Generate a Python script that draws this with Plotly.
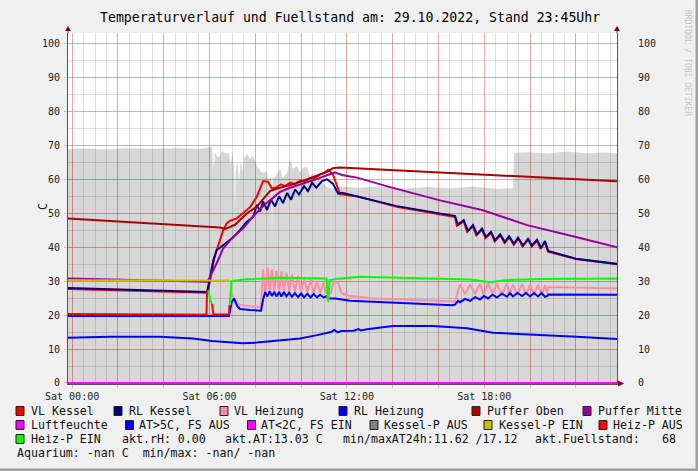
import pandas as pd
import plotly.graph_objects as go

BASE = pd.Timestamp("2022-10-29 00:00")

# ---------------- data (hour of day, value) ----------------
FUELLSTAND = [(-0.25,68.8),(0.5,69.1),(1.5,68.8),(2.5,69.2),(3.5,68.9),(4.5,69.2),(5.5,68.9),(6.10,69.5),(6.18,63.5),
    (6.25,68.0),(6.35,66.5),(6.46,66.8),(6.55,68.5),(6.70,67.5),(6.85,67.8),(6.92,64.5),(7.02,68.3),(7.08,62.0),(7.11,51.0),
    (7.14,62.0),(7.22,65.5),(7.29,58.8),(7.36,65.5),(7.45,62.5),(7.52,66.5),(7.64,67.5),(7.77,66.0),(7.90,67.0),(8.07,64.1),
    (8.21,62.6),(8.34,61.8),(8.50,62.5),(8.56,60.2),(8.70,60.5),(8.73,41.2),(8.76,60.5),(8.86,60.7),(9.08,63.1),(9.20,60.5),
    (9.38,61.7),(9.52,66.0),(9.65,63.0),(9.80,64.0),(9.95,62.1),(10.10,63.5),(10.26,63.6),(10.40,61.0),(10.52,61.7),(10.70,61.0),
    (10.83,59.7),(11.13,57.7),(11.39,57.3),(11.70,57.8),(12.5,57.5),(13.5,57.9),(14.5,57.3),(15.5,57.7),(16.5,57.4),(17.5,57.8),
    (18.5,57.2),(19.25,57.4),(19.30,67.8),(20.0,68.0),(20.8,67.6),(21.6,68.2),(22.4,67.7),(23.2,67.9),(23.9,67.6)]

VL_KESSEL = [(-0.25,27.7),(5.89,26.6),(5.95,27.5),(6.10,33.0),(6.20,36.5),(6.33,39.5),(6.46,42.0),(6.60,45.0),(6.75,47.0),
    (6.90,47.8),(7.19,48.5),(7.46,50.0),(7.77,51.8),(8.06,54.8),(8.21,57.5),(8.34,59.5),(8.55,59.3),(8.73,57.3),(8.94,57.7),
    (9.12,58.5),(9.30,58.0),(9.52,59.0),(9.73,58.6),(9.95,59.6),(10.17,59.3),(10.39,60.3),(10.60,60.3),(10.83,61.5),(11.00,61.8),
    (11.18,62.8),(11.39,61.5),(11.55,58.5),(11.70,55.6),(11.83,55.5),(12.5,54.9),(14.18,51.9),(16.63,49.1),(16.72,48.9),
    (16.80,46.3),(17.10,47.6),(17.25,44.5),(17.50,46.2),(17.65,43.5),(17.90,45.2),(18.05,42.7),(18.30,44.2),(18.45,41.7),
    (18.70,43.5),(18.88,41.2),(19.10,42.9),(19.28,40.7),(19.50,42.5),(19.67,40.2),(19.92,42.2),(20.07,40.2),(20.30,41.9),
    (20.45,39.5),(20.65,41.5),(20.78,38.7),(22.0,36.5),(23.9,34.9)]

RL_KESSEL = [(-0.25,28.0),(5.89,26.8),(6.02,30.9),(6.17,36.2),(6.31,39.1),(6.60,40.6),(6.82,41.6),(7.04,42.9),(7.19,44.0),
    (7.33,45.0),(7.62,47.4),(7.91,48.9),(8.07,52.5),(8.21,50.5),(8.34,53.5),(8.51,51.0),(8.69,54.0),(8.86,52.0),(9.04,55.0),
    (9.21,53.0),(9.39,56.0),(9.56,54.0),(9.74,57.0),(9.91,55.5),(10.13,58.0),(10.30,56.5),(10.48,59.0),(10.66,57.5),(10.91,59.5),
    (11.13,60.0),(11.39,58.7),(11.62,55.8),(11.79,56.0),(12.57,54.8),(14.18,52.1),(16.63,49.3),(16.72,49.2),(16.85,46.6),
    (17.10,48.0),(17.29,44.8),(17.51,46.5),(17.68,43.8),(17.90,45.5),(18.07,43.0),(18.29,44.5),(18.47,42.0),(18.69,43.8),
    (18.90,41.5),(19.08,43.2),(19.30,41.0),(19.47,42.8),(19.69,40.5),(19.91,42.5),(20.08,40.5),(20.30,42.2),(20.48,39.8),
    (20.65,41.8),(20.79,38.9),(22.0,36.6),(23.9,35.0)]

VL_HEIZUNG = [(-0.25,20.2),(6.85,20.2),(6.93,27.0),(7.10,24.5),(7.33,23.0),(7.77,22.6),(8.25,22.4),(8.336,33.5),(8.43,26.5),
    (8.533,34.0),(8.63,26.8),(8.729,33.5),(8.83,26.8),(8.926,33.0),(9.04,27.0),(9.144,32.8),(9.25,27.0),(9.362,32.5),(9.48,27.0),
    (9.602,32.0),(9.73,27.0),(9.865,31.5),(10.0,26.8),(10.127,31.0),(10.27,26.8),(10.41,30.5),(10.55,26.6),(10.694,30.0),
    (10.83,26.5),(10.978,29.5),(11.09,26.5),(11.18,26.0),(11.30,26.5),(11.42,29.8),(11.62,29.5),(11.77,26.4),(12.14,25.6),
    (12.57,25.4),(13.14,24.9),(16.63,23.9),(16.72,24.0),(16.85,27.0),(16.94,29.0),(17.16,26.2),(17.38,29.0),(17.60,26.2),
    (17.81,29.2),(17.98,26.2),(18.16,29.3),(18.36,26.2),(18.55,29.3),(18.77,26.0),(18.99,29.3),(19.12,26.0),(19.25,29.0),
    (19.45,26.0),(19.65,29.2),(19.82,26.0),(20.0,29.0),(20.17,26.0),(20.35,29.0),(20.50,26.0),(20.65,28.8),(20.74,26.5),
    (20.80,28.3),(23.9,27.8)]

RL_HEIZUNG = [(-0.25,19.7),(6.85,19.7),(6.97,23.8),(7.07,24.9),(7.20,22.8),(7.33,21.8),(7.77,21.5),(8.25,21.3),(8.34,24.5),
    (8.43,26.8),(8.53,25.5),(8.63,27.0),(8.73,25.6),(8.83,26.8),(8.93,25.5),(9.04,26.8),(9.14,25.5),(9.25,26.8),(9.36,25.5),
    (9.48,26.6),(9.60,25.4),(9.73,26.5),(9.87,25.3),(10.0,26.4),(10.13,25.2),(10.27,26.3),(10.41,25.2),(10.55,26.2),(10.69,25.2),
    (10.83,26.0),(10.98,25.2),(11.13,25.6),(11.17,24.9),(11.50,24.9),(11.78,24.6),(12.14,24.2),(16.63,22.9),(16.72,23.1),
    (16.85,24.2),(16.94,23.8),(17.16,24.8),(17.38,24.2),(17.60,25.3),(17.81,24.6),(17.98,25.6),(18.16,24.9),(18.36,26.0),
    (18.55,25.2),(18.77,26.3),(18.99,25.4),(19.12,26.5),(19.25,25.5),(19.45,26.5),(19.65,25.6),(19.82,26.5),(20.0,25.5),
    (20.17,26.5),(20.35,25.5),(20.50,26.5),(20.65,25.4),(20.74,25.6),(20.80,26.1),(23.9,26.0)]

PUFFER_OBEN = [(-0.25,48.5),(6.46,45.8),(6.70,45.4),(7.11,46.6),(7.33,48.0),(7.64,50.0),(8.06,51.9),(8.51,55.3),(8.64,56.5),
    (8.95,57.3),(9.52,58.2),(9.65,58.5),(10.39,60.3),(11.13,62.2),(11.39,63.3),(11.70,63.5),(23.9,59.4)]

PUFFER_MITTE = [(-0.25,30.8),(5.91,29.8),(6.31,35.2),(6.60,39.7),(7.03,43.0),(7.46,45.5),(7.95,49.4),(8.40,52.5),(8.64,53.8),
    (9.08,56.3),(9.52,57.5),(10.0,58.5),(10.52,59.7),(11.13,61.2),(11.48,62.0),(11.83,61.2),(12.45,60.5),(13.88,57.7),
    (16.07,53.8),(17.94,50.9),(19.87,46.5),(21.87,43.2),(23.9,39.8)]

LUFTFEUCHTE = [(-0.25,0.0),(23.9,0.0)]

AUSSENTEMP = [(-0.25,13.3),(1.65,13.6),(3.84,13.6),(5.28,13.1),(6.10,12.4),(7.45,11.7),(8.07,11.9),(9.95,13.1),(10.7,14.1),
    (11.3,15.0),(11.45,15.6),(11.6,14.9),(11.75,15.3),(12.3,15.4),(12.5,15.9),(12.6,15.5),(12.88,15.8),(14.0,16.8),(15.76,16.8),
    (17.25,16.1),(18.38,14.8),(20.13,14.3),(22.05,13.6),(23.9,12.9)]

KESSEL_P_EIN = [(-0.25,30.3),(6.87,30.2),(None,None),(11.15,25.8),(11.18,23.8),(11.21,25.8)]

HEIZ_P_AUS = [(-0.25,20.3),(5.87,20.1),(5.89,26.9),(None,None),(6.11,23.3),(6.17,20.2),(6.85,20.2),(6.87,22.9)]

HEIZ_P_EIN = [(5.91,26.9),(5.95,27.0),(6.09,23.3),(None,None),(6.89,22.9),(6.96,30.0),(7.5,30.5),(9.08,31.0),(11.11,30.8),
    (11.18,24.0),(11.25,30.3),(11.70,30.8),(12.57,31.3),(16.07,30.8),(17.38,30.5),(18.25,29.7),(18.90,30.3),(20.5,30.6),(23.9,30.8)]

TICK_HOURS = [0, 2, 4, 6, 8, 10, 12, 14, 16, 18, 20, 22]
TICK_TEXT = ["Sat 00:00", "", "", "Sat 06:00", "", "", "Sat 12:00", "", "", "Sat 18:00", "", ""]
Y_TICKS = [0, 10, 20, 30, 40, 50, 60, 70, 80, 90, 100]

LEGEND_LABELS = ["VL Kessel", "RL Kessel", "VL Heizung", "RL Heizung", "Puffer Oben", "Puffer Mitte",
                 "Luftfeuchte", "AT>5C, FS AUS", "AT<2C, FS EIN", "Kessel-P AUS", "Kessel-P EIN", "Heiz-P AUS",
                 "Heiz-P EIN"]
STAT_TEXTS = ["akt.rH: 0.00", "akt.AT:13.03 C", "min/maxAT24h:11.62 /17.12", "akt.Fuellstand:", "68",
              "Aquarium: -nan C\u00a0\u00a0min/max: -nan/ -nan"]
TITLE = "Temperaturverlauf und Fuellstand am: 29.10.2022, Stand 23:45Uhr"

# ---------------- styles ----------------
C = {
    "VL Kessel": "#FF0000", "RL Kessel": "#000080", "VL Heizung": "#FF8CA6", "RL Heizung": "#0000FF",
    "Puffer Oben": "#AA0000", "Puffer Mitte": "#990099", "Luftfeuchte": "#FF00FF", "AT>5C, FS AUS": "#0000FF",
    "AT<2C, FS EIN": "#FF00FF", "Kessel-P AUS": "#808080", "Kessel-P EIN": "#CCC000", "Heiz-P AUS": "#FF0000",
    "Heiz-P EIN": "#00FF00",
}
FONT = "DejaVu Sans Mono"
W, H = 698, 471
L, R, T, B = 68, 617, 33, 384


def px(x):
    return (x - L) / (R - L)


def py(y):
    return (B - y) / (B - T)


def tx(h):
    return None if h is None else BASE + pd.Timedelta(hours=h)


def split(pairs):
    return [tx(p[0]) for p in pairs], [p[1] for p in pairs]


fig = go.Figure()

fx, fy = split(FUELLSTAND)
fig.add_trace(go.Scatter(x=fx, y=fy, mode="lines", fill="tozeroy", line=dict(width=0),
                         fillcolor="rgba(0,0,0,0.155)", hoverinfo="skip", showlegend=False))

series = [
    (VL_KESSEL, "VL Kessel"), (RL_KESSEL, "RL Kessel"), (VL_HEIZUNG, "VL Heizung"), (RL_HEIZUNG, "RL Heizung"),
    (PUFFER_OBEN, "Puffer Oben"), (PUFFER_MITTE, "Puffer Mitte"), (LUFTFEUCHTE, "Luftfeuchte"),
    (AUSSENTEMP, "AT>5C, FS AUS"), (KESSEL_P_EIN, "Kessel-P EIN"), (HEIZ_P_AUS, "Heiz-P AUS"), (HEIZ_P_EIN, "Heiz-P EIN"),
]
for pairs, name in series:
    xs, ys = split(pairs)
    fig.add_trace(go.Scatter(x=xs, y=ys, mode="lines", line=dict(color=C[name], width=2),
                             connectgaps=False, hoverinfo="skip", showlegend=False))

x0 = BASE - pd.Timedelta(hours=0.179)
x1 = BASE + pd.Timedelta(hours=23.795)

MAJ = "rgba(230,90,90,0.42)"
MIN = "rgba(150,150,150,0.30)"

fig.update_layout(
    width=W, height=H,
    margin=dict(l=L, r=W - R, t=T, b=H - B, pad=0),
    paper_bgcolor="#F0F0F0", plot_bgcolor="#FFFFFF",
    font=dict(family=FONT, size=10, color="#222222"),
    showlegend=False,
    xaxis=dict(type="date", range=[x0, x1], tickmode="array",
               tickvals=[tx(h) for h in TICK_HOURS], ticktext=TICK_TEXT,
               showgrid=True, gridcolor=MAJ, gridwidth=1,
               ticks="outside", ticklen=3, tickcolor=MAJ,
               showline=True, linecolor="#555555", linewidth=1,
               zeroline=False, fixedrange=True,
               minor=dict(dtick=30 * 60 * 1000, tick0=BASE, showgrid=True, gridcolor=MIN, gridwidth=1),
               tickfont=dict(family=FONT, size=10, color="#222222")),
    yaxis=dict(range=[-0.3, 103.1], tickmode="array", tickvals=Y_TICKS,
               showgrid=True, gridcolor=MAJ, gridwidth=1, zeroline=False,
               ticks="outside", ticklen=3, tickcolor=MAJ,
               showline=True, linecolor="#555555", linewidth=1,
               minor=dict(dtick=5, tick0=0, showgrid=True, gridcolor=MIN, gridwidth=1),
               ticklabelstandoff=2,
               tickfont=dict(family=FONT, size=10, color="#222222")),
    yaxis2=dict(range=[-0.3, 103.1], tickmode="array", tickvals=Y_TICKS, overlaying="y", side="right",
                showgrid=False, zeroline=False, ticks="", showline=True, linecolor="#555555", linewidth=1,
                ticklabelstandoff=18, tickfont=dict(family=FONT, size=10, color="#222222")),
)
# dummy trace to activate right axis
fig.add_trace(go.Scatter(x=[x0], y=[None], yaxis="y2", mode="lines", hoverinfo="skip", showlegend=False))

ann = []
shapes = []

# title
ann.append(dict(text=TITLE, x=px(349.5), y=py(17), xref="paper", yref="paper", showarrow=False,
                xanchor="center", yanchor="middle", font=dict(family=FONT, size=13.2, color="#000000")))
# y title
ann.append(dict(text="C", x=px(43), y=py(207), xref="paper", yref="paper", showarrow=False, textangle=-90,
                xanchor="center", yanchor="middle", font=dict(family=FONT, size=11.5, color="#222222")))
# watermark
ann.append(dict(text="RRDTOOL / TOBI OETIKER", x=px(688), y=py(63), xref="paper", yref="paper", showarrow=False,
                textangle=90, xanchor="center", yanchor="middle", font=dict(family=FONT, size=8, color="#C4C4C4")))

# legend
LEG_FONT = dict(family=FONT, size=11.6, color="#111111")
row_y = [411, 425, 439, 453]
box_x = [16, 114, 220, 339, 472, 583, 16, 125.5, 247.5, 370, 484, 599, 16]
text_x = [30, 128, 232.5, 352.5, 485.5, 596.5, 30, 137.5, 260, 382.5, 497.5, 611.5, 30]
rows = [0] * 6 + [1] * 6 + [2]
for lab, bx, tx_, r in zip(LEGEND_LABELS, box_x, text_x, rows):
    yc = row_y[r]
    shapes.append(dict(type="rect", xref="paper", yref="paper", x0=px(bx), x1=px(bx + 8), y0=py(yc + 4.5), y1=py(yc - 4.5),
                       fillcolor=C[lab], line=dict(color="#222222", width=1)))
    ann.append(dict(text=lab, x=px(tx_ - 1), y=py(yc), xref="paper", yref="paper", showarrow=False,
                    xanchor="left", yanchor="middle", font=LEG_FONT))
stat_pos = [(120, 2), (223, 2), (341, 2), (533, 2), (660, 2), (15, 3)]
for s, (sx, r) in zip(STAT_TEXTS, stat_pos):
    ann.append(dict(text=s, x=px(sx), y=py(row_y[r]), xref="paper", yref="paper", showarrow=False,
                    xanchor="left", yanchor="middle", font=LEG_FONT))

# axis arrows and extensions
ARW = "#800000"
for ax_x in (68, 617):
    shapes.append(dict(type="line", xref="paper", yref="paper", x0=px(ax_x), x1=px(ax_x), y0=py(33), y1=py(30),
                       line=dict(color="#555555", width=1)))
    shapes.append(dict(type="path", xref="paper", yref="paper",
                       path=f"M {px(ax_x-3)},{py(31)} L {px(ax_x+3)},{py(31)} L {px(ax_x)},{py(26)} Z",
                       fillcolor=ARW, line=dict(width=0)))
shapes.append(dict(type="line", xref="paper", yref="paper", x0=px(617), x1=px(620), y0=py(383.5), y1=py(383.5),
                   line=dict(color="#555555", width=1)))
shapes.append(dict(type="path", xref="paper", yref="paper",
                   path=f"M {px(618)},{py(380.5)} L {px(618)},{py(386.5)} L {px(624)},{py(383.5)} Z",
                   fillcolor=ARW, line=dict(width=0)))
# frame shadow
shapes.append(dict(type="rect", xref="paper", yref="paper", x0=px(695.5), x1=px(698.5), y0=py(471.5), y1=py(-0.5),
                   fillcolor="#A0A0A0", line=dict(width=0)))
shapes.append(dict(type="rect", xref="paper", yref="paper", x0=px(-0.5), x1=px(698.5), y0=py(471.5), y1=py(468.5),
                   fillcolor="#A0A0A0", line=dict(width=0)))

fig.update_layout(annotations=ann, shapes=shapes)

fig.write_html("out.html", config={"displayModeBar": False, "staticPlot": True},
               post_script="document.body.style.margin='0';document.body.style.padding='0';")
